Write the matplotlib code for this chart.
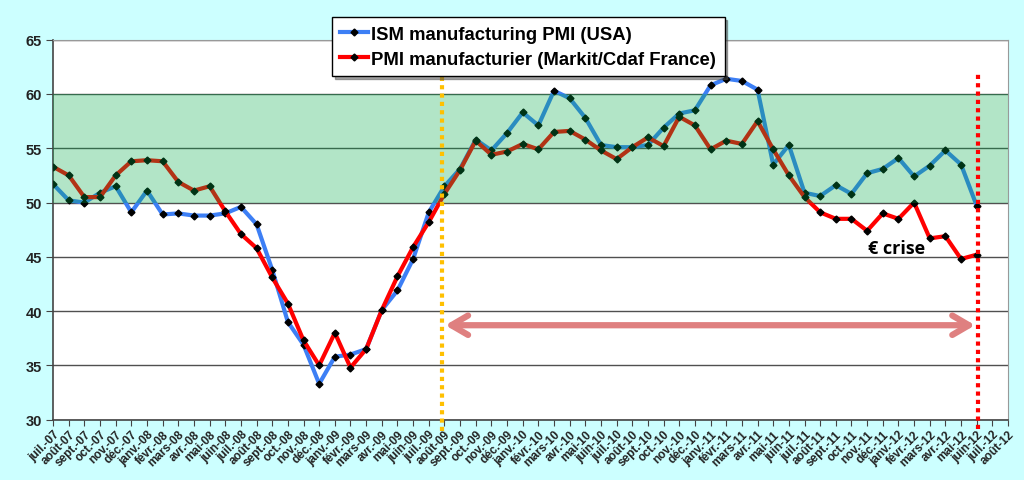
import matplotlib
matplotlib.use('Agg')
from matplotlib import pyplot as plt

# month labels on the category axis (juil.-07 .. août-12)
MONTHS = ['janv.', 'févr.', 'mars', 'avr.', 'mai', 'juin',
          'juil.', 'août', 'sept.', 'oct.', 'nov.', 'déc.']
LABELS = []
for year in range(7, 13):
    for m, name in enumerate(MONTHS):
        if (year == 7 and m < 6) or (year == 12 and m > 7):
            continue
        LABELS.append(f'{name}-{year:02d}')

ISM_USA = [51.7, 50.2, 50.0, 50.9, 51.5, 49.1, 51.1, 48.9, 49.0, 48.8,
           48.8, 49.0, 49.6, 48.0, 43.8, 39.0, 36.9, 33.3, 35.8, 36.0,
           36.5, 40.1, 41.9, 44.8, 49.1, 51.5, 53.1, 55.8, 54.8, 56.4,
           58.3, 57.1, 60.3, 59.6, 57.8, 55.3, 55.1, 55.1, 55.3, 56.9,
           58.2, 58.5, 60.8, 61.4, 61.2, 60.4, 53.5, 55.3, 50.9, 50.6,
           51.6, 50.8, 52.7, 53.1, 54.1, 52.4, 53.4, 54.8, 53.5, 49.7]

PMI_FRANCE = [53.3, 52.5, 50.5, 50.5, 52.5, 53.8, 53.9, 53.8, 51.9, 51.1,
              51.5, 49.2, 47.1, 45.8, 43.1, 40.7, 37.3, 35.0, 38.0, 34.8,
              36.5, 40.1, 43.2, 45.9, 48.2, 50.8, 53.0, 55.7, 54.4, 54.7,
              55.4, 54.9, 56.5, 56.6, 55.8, 54.8, 54.0, 55.1, 56.0, 55.2,
              57.9, 57.1, 54.9, 55.7, 55.4, 57.5, 54.9, 52.5, 50.5, 49.1,
              48.5, 48.5, 47.4, 49.0, 48.5, 50.0, 46.7, 46.9, 44.8, 45.2]

BAND = (50, 60)
START_LINE = 24.85   # orange marker, end of recession
CRISIS_LINE = 59.1   # red marker, last point

plt.rcParams['font.family'] = ['Liberation Sans', 'DejaVu Sans']

fig = plt.figure(figsize=(10.24, 4.81), dpi=100, facecolor='#CCFFFF')
ax = fig.add_axes([0.0518, 0.1254, 0.9326, 0.79])
ax.set_facecolor('white')

x = list(range(len(ISM_USA)))
ax.plot(x, ISM_USA, color='#3D7FF5', lw=3, marker='D', ms=3.5,
        mfc='black', mec='black', zorder=3, label='ISM manufacturing PMI (USA)')
ax.plot(x, PMI_FRANCE, color='#FF0000', lw=3, marker='D', ms=3.5,
        mfc='black', mec='black', zorder=3,
        label='PMI manufacturier (Markit/Cdaf France)')

# translucent green zone drawn over the lines
ax.axhspan(BAND[0], BAND[1], color='#00AC48', alpha=0.3, lw=0, zorder=4)

ax.set_xlim(0, len(LABELS) - 1)
ax.set_ylim(30, 65)
ax.set_yticks(range(30, 66, 5))
ax.yaxis.grid(True, color='#505050', lw=1)
ax.set_axisbelow(True)

ax.set_xticks(range(len(LABELS)))
ax.set_xticklabels(LABELS, rotation=45, ha='right', rotation_mode='anchor',
                   fontsize=8.5, fontweight='bold', color='#222222')
for t in ax.get_yticklabels():
    t.set_fontsize(10.5)
    t.set_fontweight('bold')
    t.set_color('#222222')
ax.tick_params(axis='x', length=4, color='#444444', pad=2)
ax.tick_params(axis='y', length=5, color='#444444', pad=3)
for side in ['left', 'bottom']:
    ax.spines[side].set_color('#444444')
    ax.spines[side].set_linewidth(1.2)
ax.spines['top'].set_color('#999999')
ax.spines['right'].set_color('#999999')

# markers for the start of the recovery and the euro crisis
ax.plot([START_LINE, START_LINE], [29.0, 61.7], color='#FFC000', lw=3,
        ls=(0, (1, 1)), clip_on=False, zorder=5)
ax.plot([CRISIS_LINE, CRISIS_LINE], [29.1, 62.1], color='#FF0000', lw=3,
        ls=(0, (1, 1)), clip_on=False, zorder=5)
ax.annotate('', xy=(START_LINE + 0.2, 38.7), xytext=(CRISIS_LINE - 0.2, 38.7),
            arrowprops=dict(arrowstyle='<->,head_length=1.2,head_width=0.7',
                            color='#DF8080', lw=4.5, shrinkA=0, shrinkB=0),
            zorder=5)
ax.text(53.9, 45.8, '€ crise', fontsize=13, fontweight='bold',
        family=['Open Sans', 'DejaVu Sans'], ha='center', va='center', zorder=6)

leg = fig.legend(loc='upper left', bbox_to_anchor=(0.324, 0.962),
                 frameon=True, fancybox=False, shadow=True, edgecolor='black',
                 handlelength=1.5, handletextpad=0.2, borderpad=0.45,
                 borderaxespad=0, labelspacing=0.45,
                 prop=dict(size=13.3, weight='bold'))
leg.get_frame().set_linewidth(1.0)

fig.savefig('out.png', dpi=100, facecolor=fig.get_facecolor())
